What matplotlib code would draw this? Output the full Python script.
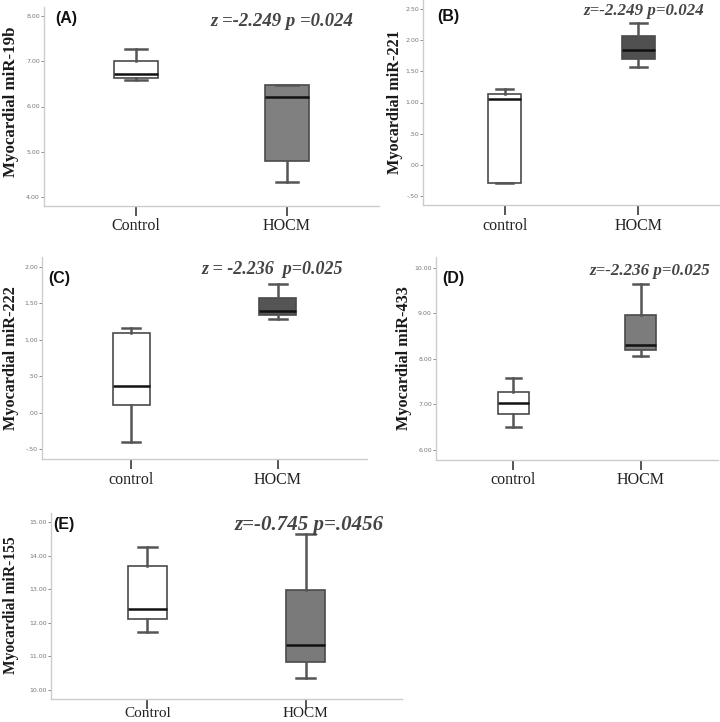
import matplotlib
matplotlib.use("Agg")
import matplotlib.pyplot as plt

# ─── DATA (box statistics) ─────────────────────────────────────────────────────
# order in each list: whislo, q1, med, q3, whishi
A_control = [6.58, 6.64, 6.72, 7.00, 7.28]
A_hocm = [4.33, 4.79, 6.21, 6.465, 6.465]
B_control = [-0.285, -0.285, 1.05, 1.14, 1.22]
B_hocm = [1.565, 1.70, 1.84, 2.06, 2.27]
C_control = [-0.40, 0.103, 0.364, 1.10, 1.164]
C_hocm = [1.287, 1.337, 1.39, 1.57, 1.77]
D_control = [6.51, 6.785, 7.035, 7.27, 7.58]
D_hocm = [8.07, 8.19, 8.30, 8.965, 9.65]
E_control = [11.73, 12.12, 12.40, 13.70, 14.27]
E_hocm = [10.35, 10.83, 11.34, 12.99, 14.64]

A_ticks = [4, 5, 6, 7, 8]
A_ticklabels = ["4.00", "5.00", "6.00", "7.00", "8.00"]
B_ticks = [-0.5, 0, 0.5, 1.0, 1.5, 2.0, 2.5]
B_ticklabels = ["-.50", ".00", ".50", "1.00", "1.50", "2.00", "2.50"]
C_ticks = [-0.5, 0, 0.5, 1.0, 1.5, 2.0]
C_ticklabels = ["-.50", ".00", ".50", "1.00", "1.50", "2.00"]
D_ticks = [6, 7, 8, 9, 10]
D_ticklabels = ["6.00", "7.00", "8.00", "9.00", "10.00"]
E_ticks = [10, 11, 12, 13, 14, 15]
E_ticklabels = ["10.00", "11.00", "12.00", "13.00", "14.00", "15.00"]

# ─── LAYOUT (pixels on a 720x722 canvas) ───────────────────────────────────────
W, H = 720, 722
PANELS = [
    dict(letter="(A)", ctrl=A_control, hocm=A_hocm, ticks=A_ticks, tl=A_ticklabels,
         ylim=(3.8, 8.2), ylabel="Myocardial miR-19b", ylab_fs=12.2,
         groups=["Control", "HOCM"], stat="z =-2.249 p =0.024", stat_fs=13.5,
         box=(44, 379, 7, 206), fill="#808080", w=0.29, ylab_x=11, ylab_y=102,
         let_xy=(55, 19), stat_xy=(211, 21), xpad=2, xfs=11.5),
    dict(letter="(B)", ctrl=B_control, hocm=B_hocm, ticks=B_ticks, tl=B_ticklabels,
         ylim=(-0.645, 2.645), ylabel="Myocardial miR-221", ylab_fs=11.7,
         groups=["control", "HOCM"], stat="z=-2.249 p=0.024", stat_fs=12.2,
         box=(423, 720, 0, 205), fill="#505050", w=0.25, ylab_x=395, ylab_y=102,
         let_xy=(437, 17), stat_xy=(583, 11), xpad=2, xfs=11.5),
    dict(letter="(C)", ctrl=C_control, hocm=C_hocm, ticks=C_ticks, tl=C_ticklabels,
         ylim=(-0.637, 2.137), ylabel="Myocardial miR-222", ylab_fs=11.7,
         groups=["control", "HOCM"], stat="z = -2.236  p=0.025", stat_fs=13,
         box=(42, 367, 257, 459), fill="#555555", w=0.25, ylab_x=11, ylab_y=358,
         let_xy=(48, 278), stat_xy=(202, 269), xpad=2, xfs=11.5),
    dict(letter="(D)", ctrl=D_control, hocm=D_hocm, ticks=D_ticks, tl=D_ticklabels,
         ylim=(5.78, 10.24), ylabel="Myocardial miR-433", ylab_fs=11.7,
         groups=["control", "HOCM"], stat="z=-2.236 p=0.025", stat_fs=12.2,
         box=(436, 718, 257, 460), fill="#7c7c7c", w=0.24, ylab_x=404, ylab_y=358,
         let_xy=(442, 279), stat_xy=(589, 271), xpad=2, xfs=11.5),
    dict(letter="(E)", ctrl=E_control, hocm=E_hocm, ticks=E_ticks, tl=E_ticklabels,
         ylim=(9.73, 15.27), ylabel="Myocardial miR-155", ylab_fs=11.2,
         groups=["Control", "HOCM"], stat="z=-0.745 p=.0456", stat_fs=15,
         box=(51, 402, 513, 699), fill="#7a7a7a", w=0.25, ylab_x=11, ylab_y=605,
         let_xy=(53, 524), stat_xy=(235, 525), xpad=-1, xfs=11),
]

SERIF = ["Liberation Serif", "DejaVu Serif"]
SANS = ["Liberation Sans", "DejaVu Sans"]


def fx(x):
    return x / W


def fy(y):
    return 1 - y / H


def stats(vals, label):
    lo, q1, med, q3, hi = vals
    return dict(whislo=lo, q1=q1, med=med, q3=q3, whishi=hi, fliers=[], label=label)


fig = plt.figure(figsize=(W / 100, H / 100), dpi=100)
fig.patch.set_facecolor("white")

for p in PANELS:
    l, r, t, b = p["box"]
    ax = fig.add_axes([fx(l), fy(b), (r - l) / W, (b - t) / H])

    bp = ax.bxp([stats(p["ctrl"], p["groups"][0]), stats(p["hocm"], p["groups"][1])],
                positions=[0, 1], widths=p["w"], patch_artist=True, showfliers=False,
                boxprops=dict(edgecolor="#4a4a4a", linewidth=1.2),
                whiskerprops=dict(color="#555555", linewidth=1.8),
                capprops=dict(color="#555555", linewidth=1.8),
                medianprops=dict(color="#111111", linewidth=1.8))
    bp["boxes"][0].set_facecolor("white")
    bp["boxes"][1].set_facecolor(p["fill"])

    ax.set_xlim(-0.61, 1.61)
    ax.set_ylim(*p["ylim"])
    ax.set_yticks(p["ticks"])
    ax.set_yticklabels(p["tl"])
    ax.tick_params(axis="y", length=2, width=0.6, pad=1, labelsize=4.5,
                   colors="#777777")
    ax.set_xticks([0, 1])
    ax.set_xticklabels(p["groups"], fontsize=p["xfs"], family=SERIF, color="#222222")
    ax.tick_params(axis="x", length=7, width=1.4, pad=p["xpad"], color="#555555")

    for side in ["top", "right"]:
        ax.spines[side].set_visible(False)
    for side in ["left", "bottom"]:
        ax.spines[side].set_color("#cccccc")
        ax.spines[side].set_linewidth(1.0)

    fig.text(fx(p["ylab_x"]), fy(p["ylab_y"]), p["ylabel"], rotation=90,
             ha="center", va="center", fontsize=p["ylab_fs"], fontweight="bold",
             family=SERIF, color="#1a1a1a")
    fig.text(fx(p["let_xy"][0]), fy(p["let_xy"][1]), p["letter"], ha="left",
             va="center", fontsize=11.5, fontweight="bold", family=SANS,
             color="#111111")
    fig.text(fx(p["stat_xy"][0]), fy(p["stat_xy"][1]), p["stat"], ha="left",
             va="center", fontsize=p["stat_fs"], fontweight="bold",
             fontstyle="italic", family=SERIF, color="#444444")

fig.savefig("out.png", dpi=100)
